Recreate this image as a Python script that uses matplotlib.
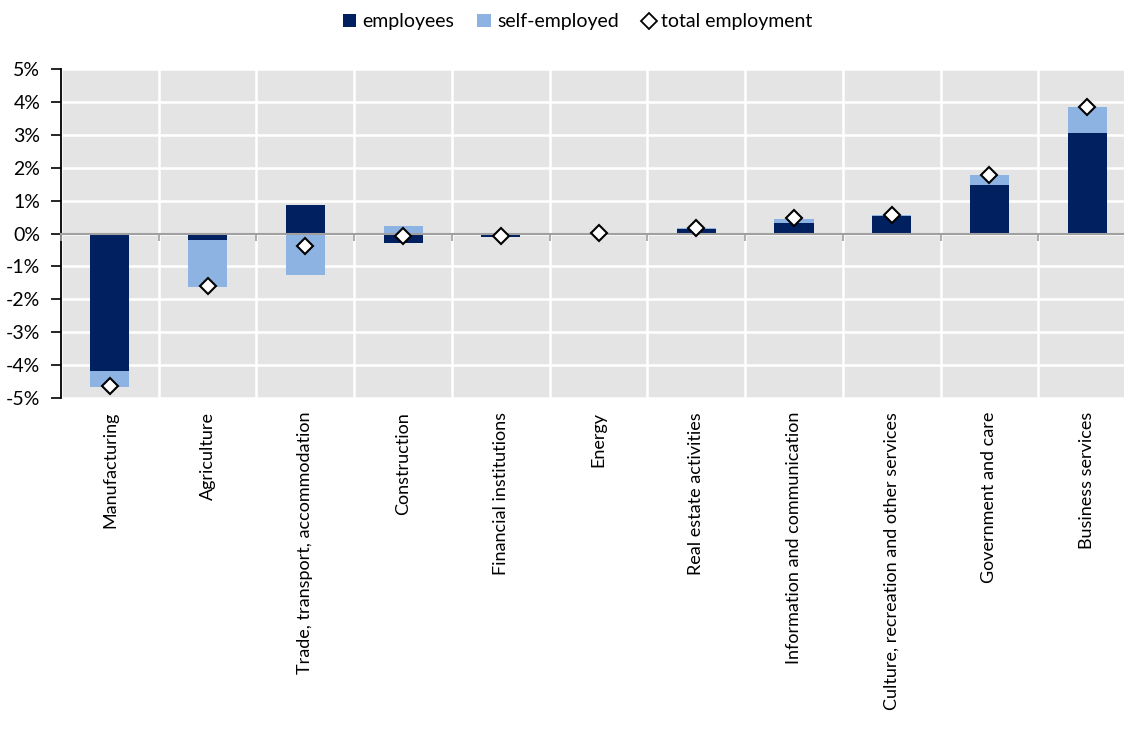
import numpy as np
import matplotlib
matplotlib.use('Agg')
import matplotlib.pyplot as plt
from matplotlib.patches import Patch
from matplotlib.lines import Line2D
from matplotlib.ticker import FuncFormatter, NullFormatter

plt.rcParams['font.family'] = ['Lato', 'DejaVu Sans']

sectors = ['Manufacturing', 'Agriculture', 'Trade, transport, accommodation',
           'Construction', 'Financial institutions', 'Energy',
           'Real estate activities', 'Information and communication',
           'Culture, recreation and other services', 'Government and care',
           'Business services']
employees = [-4.18, -0.21, 0.88, -0.30, -0.10, 0.00, 0.15, 0.31, 0.53, 1.48, 3.06]
self_employed = [-0.48, -1.40, -1.27, 0.22, 0.02, 0.00, 0.02, 0.13, 0.04, 0.29, 0.80]
total = [-4.63, -1.59, -0.37, -0.08, -0.07, 0.01, 0.18, 0.47, 0.57, 1.77, 3.86]

dark = '#002060'
light = '#8db3e2'

fig = plt.figure(figsize=(11.24, 7.29), dpi=100)
# plot area runs slightly past the right edge of the canvas
ax = fig.add_axes([0.0543, 0.454, 0.9564, 0.4513])
ax.set_facecolor('#e4e4e4')

x = np.arange(len(sectors))
emp = np.array(employees)
se = np.array(self_employed)
# stack self-employed on top of employees when both go the same way
base = np.where(np.sign(se) == np.sign(emp), emp, 0)
ax.bar(x, emp, width=0.4, color=dark, zorder=3)
ax.bar(x, se, width=0.4, bottom=base, color=light, zorder=3)
ax.plot(x, total, linestyle='none', marker='D', markersize=8.5,
        markerfacecolor='white', markeredgecolor='black', markeredgewidth=1.5, zorder=5)

ax.set_xlim(-0.5, len(sectors) - 0.5)
ax.set_ylim(-5, 5)
ax.set_yticks(np.arange(-5, 6, 1))
ax.yaxis.set_major_formatter(FuncFormatter(lambda v, p: f'{v:.0f}%'))
ax.set_xticks(x)
ax.set_xticklabels(sectors, rotation=90, fontsize=13)
ax.set_xticks(np.arange(len(sectors) + 1) - 0.5, minor=True)
ax.tick_params(axis='x', which='both', length=0, pad=10)
ax.tick_params(axis='y', direction='out', length=7, width=1.2, labelsize=14, pad=8)

ax.grid(axis='y', which='major', color='white', linewidth=1.8, zorder=1)
ax.grid(axis='x', which='minor', color='white', linewidth=1.8, zorder=1)
ax.set_axisbelow(True)

for s in ['top', 'right', 'bottom']:
    ax.spines[s].set_visible(False)
ax.spines['left'].set_linewidth(1.3)

# zero line with category separators
zero = ax.secondary_xaxis(0.5)
zero.set_xticks(np.arange(len(sectors) + 1) - 0.5)
zero.xaxis.set_major_formatter(NullFormatter())
zero.xaxis.set_ticks_position('bottom')
zero.tick_params(axis='x', direction='out', length=5, width=1.2, color='#a0a0a0')
for s in zero.spines.values():
    s.set_color('#a0a0a0')
    s.set_linewidth(1.5)
zero.set_zorder(4)

handles = [Patch(facecolor=dark, label='employees'),
           Patch(facecolor=light, label='self-employed'),
           Line2D([], [], linestyle='none', marker='D', markersize=8,
                  markerfacecolor='white', markeredgecolor='black',
                  markeredgewidth=1.3, label='total employment')]
fig.legend(handles=handles, loc='center', bbox_to_anchor=(0.514, 0.97), ncol=3,
           frameon=False, fontsize=14, handlelength=0.7, handleheight=0.7,
           handletextpad=0.3, columnspacing=1.2)

fig.savefig('out.png', dpi=100)
